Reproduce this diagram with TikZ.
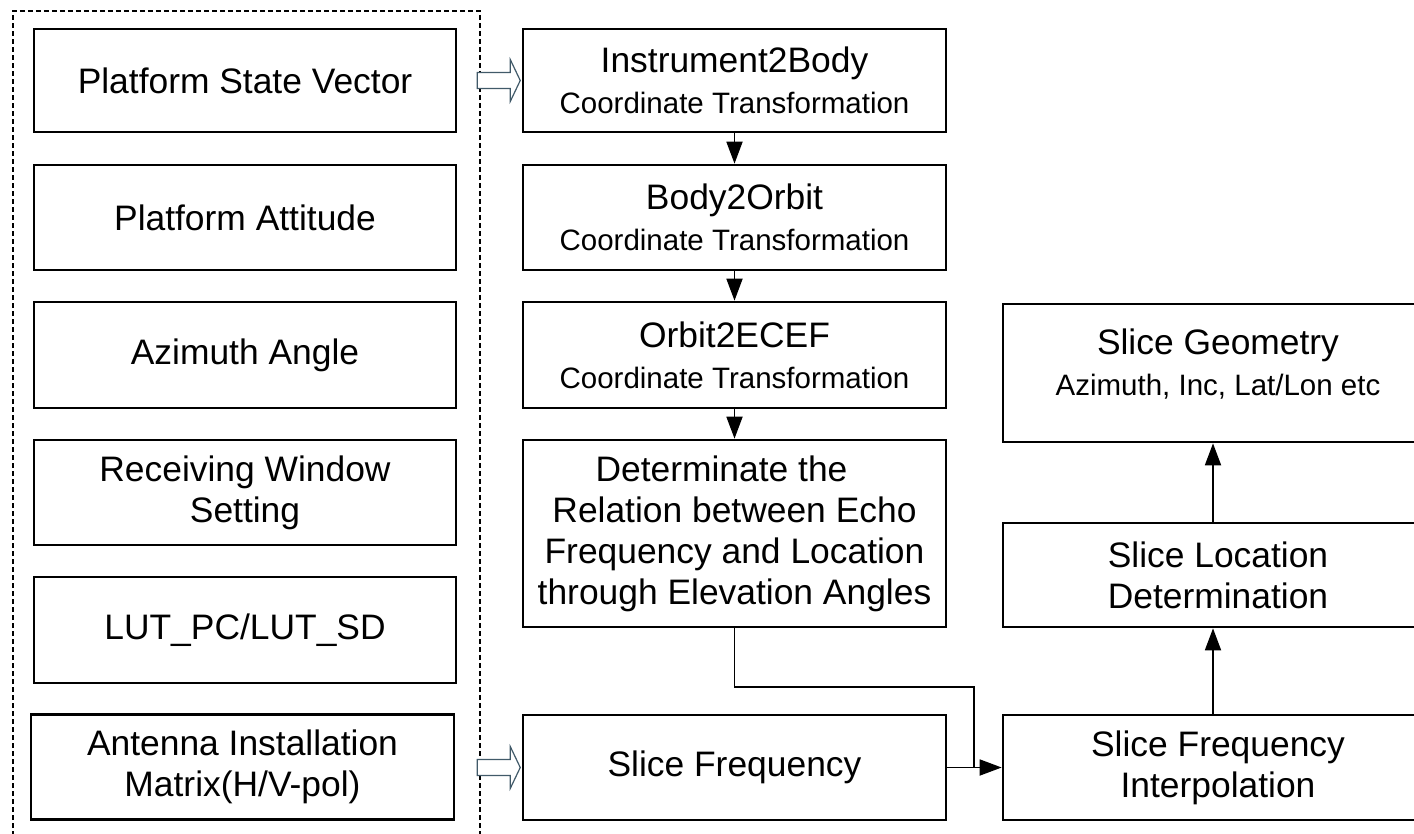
\documentclass[tikz,border=0pt]{standalone}
\usepackage{fontspec}
\setmainfont{Liberation Sans}
\usetikzlibrary{arrows.meta}
\newcommand\bigtxt{\fontsize{17.7}{20.5}\selectfont}
\newcommand\smalltxt{\fontsize{14.75}{18}\selectfont}
\definecolor{hollowc}{RGB}{65,90,105}
\begin{document}
\begin{tikzpicture}[x=0.5pt,y=-0.5pt,
  box/.style={draw,line width=1.35pt,align=center,inner sep=2pt,font=\bigtxt},
  lbox/.style={box,minimum width=211pt},
  mbox/.style={box,minimum width=211.5pt},
  rbox/.style={box,minimum width=215pt},
  arr/.style={line width=0.9pt,-{Triangle[length=11pt,width=8pt]}},
  link/.style={line width=0.75pt},
  hollow/.style={draw=hollowc,fill=white,line width=0.6pt,line join=miter},
  group/.style={line width=1pt,dash pattern=on 2.6pt off 1.4pt}]
\useasboundingbox (0,0) rectangle (1414,834);
\clip (0,0) rectangle (1414,834);

% dashed input group
\draw[group] (13,860) -- (13,11) -- (480,11) -- (480,860);

% left column
\node[lbox,minimum height=51.5pt] (L1) at (245,80.5) {Platform State Vector};
\node[lbox,minimum height=52.5pt] (L2) at (245,217.5) {Platform Attitude};
\node[lbox,minimum height=53pt]   (L3) at (245,355) {Azimuth Angle};
\node[lbox,minimum height=52.5pt] (L4) at (245,492.5) {Receiving Window\\Setting};
\node[lbox,minimum height=53pt]   (L5) at (245,630) {LUT\_PC/LUT\_SD};
\node[lbox,minimum height=52.5pt,minimum width=211.5pt] (L6) at (242.5,767) {Antenna Installation\\Matrix(H/V-pol)};

% middle column
\node[mbox,minimum height=51.5pt] (M1) at (734.5,80.5) {Instrument2Body\\{\smalltxt Coordinate Transformation}};
\node[mbox,minimum height=52.5pt] (M2) at (734.5,217.5) {Body2Orbit\\{\smalltxt Coordinate Transformation}};
\node[mbox,minimum height=53pt]   (M3) at (734.5,355) {Orbit2ECEF\\{\smalltxt Coordinate Transformation}};
\node[mbox,minimum height=93.5pt] (M4) at (734.5,533.5) {Determinate the\hspace*{13pt}\\Relation between Echo\\Frequency and Location\\through Elevation Angles};
\node[mbox,minimum height=52.5pt] (M5) at (734.5,767.5) {Slice Frequency};

% right column
\node[rbox,minimum height=69pt]   (R1) at (1218,373) {Slice Geometry\\{\smalltxt Azimuth, Inc, Lat/Lon etc}\rule[-11pt]{0pt}{11pt}};
\node[rbox,minimum height=52pt]   (R2) at (1218,575) {Slice Location\\Determination};
\node[rbox,minimum height=52.5pt] (R3) at (1218,767.5) {Slice Frequency\\Interpolation};

% hollow input arrows
\draw[hollow] ([xshift=-0.7pt]M1.west) -- ++(-10,-21) -- ++(0,13) -- ++(-33,0) -- ++(0,16) -- ++(33,0) -- ++(0,13) -- cycle;
\draw[hollow] ([xshift=-0.7pt]M5.west) -- ++(-10,-21) -- ++(0,13) -- ++(-33,0) -- ++(0,16) -- ++(33,0) -- ++(0,13) -- cycle;

% flow arrows
\draw[arr] (M1) -- (M2);
\draw[arr] (M2) -- (M3);
\draw[arr] (M3) -- (M4);
\draw[arr] (M5) -- (R3);
\coordinate (k) at (974,687);
\coordinate (j) at (974,767.5);
\draw[link] (M4.south) |- (k) -- (j);
\draw[arr] ([xshift=-2.5pt]R3.north) -- ([xshift=-2.5pt]R2.south);
\draw[arr] ([xshift=-2.5pt]R2.north) -- ([xshift=-2.5pt]R1.south);
\end{tikzpicture}
\end{document}
